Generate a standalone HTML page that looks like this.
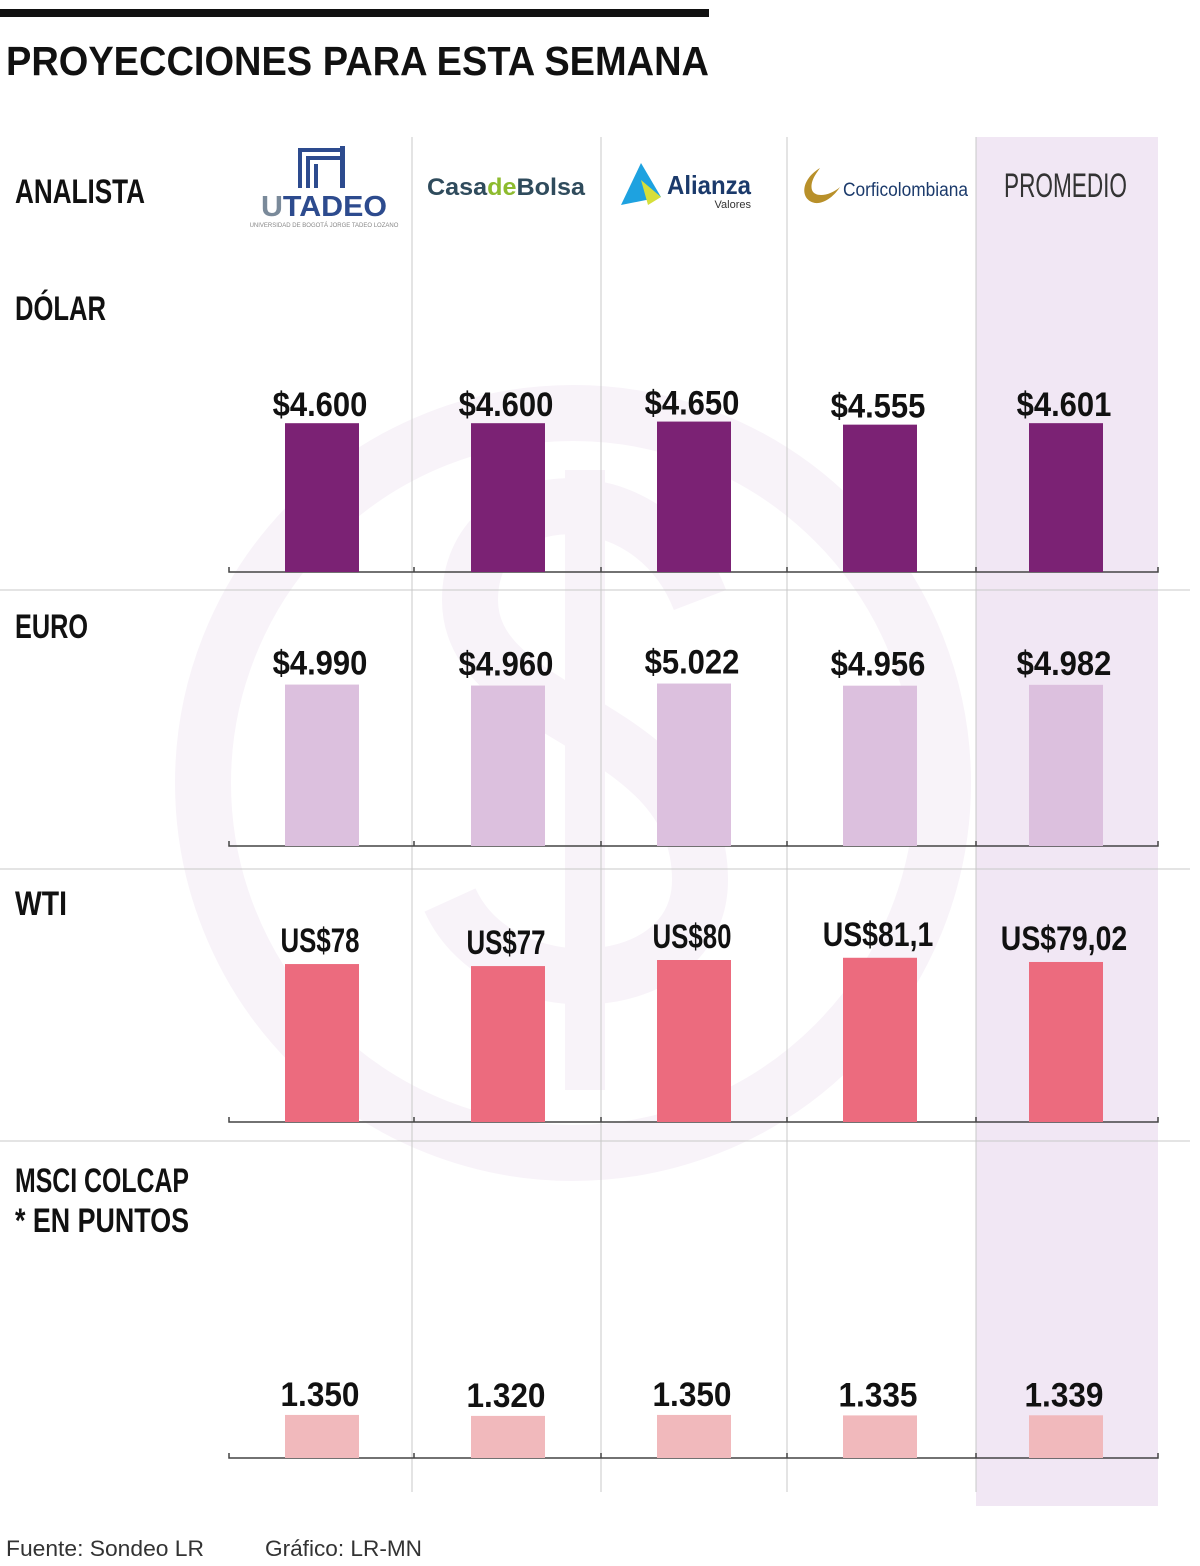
<!DOCTYPE html>
<html><head><meta charset="utf-8">
<style>
body{margin:0;width:1200px;height:1566px;background:#fff;overflow:hidden;font-family:"Liberation Sans",sans-serif}
svg{display:block}
.lbl{font-family:"Liberation Sans",sans-serif;font-weight:bold;font-size:34px;fill:#111}
.val{font-family:"Liberation Sans",sans-serif;font-weight:bold;font-size:34px;fill:#111}
</style></head><body>
<svg id="chart" width="1200" height="1566">
<g fill="none" stroke="#f8f3f9">
<circle cx="573" cy="783" r="370" stroke-width="56"/>
<path d="M700 600 C650 470 470 480 470 600 C470 720 700 720 700 880 C700 1000 500 1010 450 900" stroke-width="56"/>
<line x1="585" y1="470" x2="585" y2="1090" stroke-width="40"/>
</g>
<rect x="976" y="137" width="182" height="1369" fill="#f1e7f4"/>
<rect x="0" y="9" width="709" height="8" fill="#111"/>
<text x="6" y="75" font-size="41" font-weight="bold" fill="#111" textLength="703" lengthAdjust="spacingAndGlyphs">PROYECCIONES PARA ESTA SEMANA</text>
<g stroke="#c8c8c8" stroke-width="1">
<line x1="412" y1="137" x2="412" y2="1492"/><line x1="601" y1="137" x2="601" y2="1492"/><line x1="787" y1="137" x2="787" y2="1492"/><line x1="976" y1="137" x2="976" y2="1492"/>
<line x1="0" y1="590" x2="1190" y2="590"/><line x1="0" y1="869" x2="1190" y2="869"/><line x1="0" y1="1141" x2="1190" y2="1141"/>
</g>
<text class="lbl" x="15" y="203" textLength="130" lengthAdjust="spacingAndGlyphs">ANALISTA</text>
<text class="lbl" x="15" y="320" textLength="91" lengthAdjust="spacingAndGlyphs">DÓLAR</text>
<text class="lbl" x="15" y="638" textLength="73" lengthAdjust="spacingAndGlyphs">EURO</text>
<text class="lbl" x="15" y="915" textLength="52" lengthAdjust="spacingAndGlyphs">WTI</text>
<text class="lbl" x="15" y="1192" textLength="174" lengthAdjust="spacingAndGlyphs">MSCI COLCAP</text>
<text class="lbl" x="15" y="1232" textLength="174" lengthAdjust="spacingAndGlyphs">* EN PUNTOS</text>
<g>
<rect x="298" y="148" width="4" height="40" fill="#2d4b8e"/><rect x="298" y="148" width="44" height="4" fill="#2d4b8e"/>
<rect x="306" y="156" width="4" height="32" fill="#2d4b8e"/><rect x="306" y="156" width="36" height="4" fill="#2d4b8e"/>
<rect x="314" y="164" width="4" height="24" fill="#2d4b8e"/><rect x="340" y="146" width="5" height="42" fill="#2d4b8e"/>
<text x="261" y="216" font-weight="bold" font-size="29" fill="#2d4b8e" textLength="126" lengthAdjust="spacingAndGlyphs"><tspan fill="#7a8a9a">U</tspan>TADEO</text>
<text x="324" y="227" font-size="6" fill="#888" text-anchor="middle">UNIVERSIDAD DE BOGOTÁ JORGE TADEO LOZANO</text>
</g>
<text x="427" y="195" font-weight="bold" font-size="24" fill="#2f4b5c" textLength="158" lengthAdjust="spacingAndGlyphs">Casa<tspan fill="#8dbb2e">de</tspan>Bolsa</text>
<g>
<polygon points="641,163 621,205 661,197" fill="#1ea2e0"/><polygon points="641,180 661,197 648,205" fill="#d6df3a"/>
<text x="667" y="194" font-weight="bold" font-size="26" fill="#1b3a6b" textLength="84" lengthAdjust="spacingAndGlyphs">Alianza</text>
<text x="751" y="208" font-size="11" fill="#333" text-anchor="end">Valores</text>
</g>
<g>
<path d="M820 168 C800 180 800 200 815 203 C825 204 835 195 840 187 C830 196 815 198 812 190 C810 182 815 175 820 168Z" fill="#b8902a"/>
<text x="843" y="196" font-size="19" fill="#1b3a6b" textLength="125" lengthAdjust="spacingAndGlyphs">Corficolombiana</text>
</g>
<text x="1004" y="197" font-size="34" fill="#333" textLength="123" lengthAdjust="spacingAndGlyphs">PROMEDIO</text>
<g id="bars"></g>
<text x="6" y="1556" font-size="22" fill="#333" textLength="198" lengthAdjust="spacingAndGlyphs">Fuente: Sondeo LR</text>
<text x="265" y="1556" font-size="22" fill="#333" textLength="157" lengthAdjust="spacingAndGlyphs">Gráfico: LR-MN</text>
</svg>
<script>
const analysts = ["utadeo","casadebolsa","alianza","corficolombiana","promedio"];
const dolarValues = [4600,4600,4650,4555,4601];
const dolarLabels = ["$4.600","$4.600","$4.650","$4.555","$4.601"];
const euroValues = [4990,4960,5022,4956,4982];
const euroLabels = ["$4.990","$4.960","$5.022","$4.956","$4.982"];
const wtiValues = [78,77,80,81.1,79.02];
const wtiLabels = ["US$78","US$77","US$80","US$81,1","US$79,02"];
const colcapValues = [1350,1320,1350,1335,1339];
const colcapLabels = ["1.350","1.320","1.350","1.335","1.339"];
const NS="http://www.w3.org/2000/svg";
const g=document.getElementById('bars');
function xCenter(i){return 322+i*186;}
const rows=[
 {vals:dolarValues,labels:dolarLabels,base:572,scale:0.03235,color:"#7b2274",gap:7},
 {vals:euroValues,labels:euroLabels,base:846,scale:0.03235,color:"#dcc0de",gap:10},
 {vals:wtiValues,labels:wtiLabels,base:1122,scale:2.025,color:"#ec6b7e",gap:12},
 {vals:colcapValues,labels:colcapLabels,base:1458,scale:0.0319,color:"#f1b9bc",gap:9}
];
rows.forEach(r=>{
 const ax=document.createElementNS(NS,'path');
 let d="M229 "+(r.base-5)+" V"+r.base+" H1158 V"+(r.base-5);
 [414,601,787,976].forEach(x=>{d+=" M"+x+" "+(r.base-5)+" V"+r.base;});
 ax.setAttribute('d',d);ax.setAttribute('stroke','#444');ax.setAttribute('stroke-width','1.5');ax.setAttribute('fill','none');
 
 
 g.appendChild(ax);
 r.vals.forEach((v,i)=>{
  const h=v*r.scale;
  const b=document.createElementNS(NS,'rect');
  b.setAttribute('x',xCenter(i)-37);b.setAttribute('y',r.base-h);b.setAttribute('width',74);b.setAttribute('height',h);
  b.setAttribute('fill',r.color);
  
  
  g.appendChild(b);
  const t=document.createElementNS(NS,'text');
  const w=r.labels[i].length*15.8;
  t.setAttribute('x',xCenter(i)-2-w/2);t.setAttribute('y',r.base-h-r.gap);t.setAttribute('class','val');
  t.setAttribute('textLength',w);t.setAttribute('lengthAdjust','spacingAndGlyphs');
  t.textContent=r.labels[i];
  
  
  g.appendChild(t);
 });
});
</script>
</body></html>
